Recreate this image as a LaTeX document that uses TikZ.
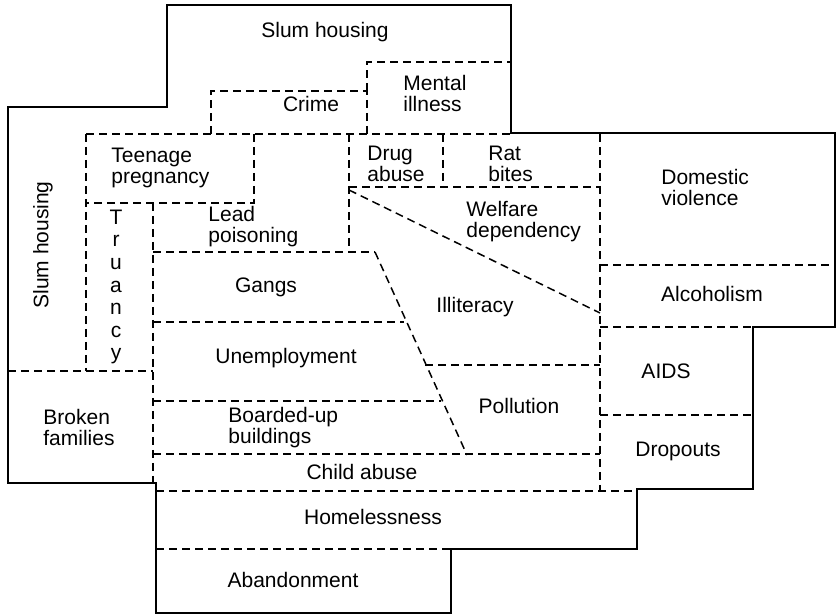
\documentclass[tikz,border=0pt]{standalone}
\usepackage{fontspec}
\setmainfont{Liberation Sans}
\tikzset{
    wall/.style={line width=1pt},
    part/.style={dash pattern=on 4pt off 2.5pt, line width=0.75pt},
    lbl/.style={font=\fontsize{10.5}{10.5}\selectfont, inner sep=0pt},
    lblL/.style={lbl, align=left, anchor=west}
}
\begin{document}
\begin{tikzpicture}[x=0.5pt,y=-0.5pt]
    \useasboundingbox (0,0) rectangle (836,614);
    % outer edge
    \draw[wall] (167,5)--(511,5)--(511,133)--(835,133)--(835,327)--(753,327)--(753,489)--(637,489)--(637,549)--(451,549)--(451,613)--(156,613)--(156,483)--(8,483)--(8,107)--(167,107)--cycle;
    % inner borders
    \draw[part] (211,134)--(211,91)--(367,91)--(367,134);
    \draw[part] (367,91)--(367,62)--(511,62);
    \draw[part] (86,134)--(511,134);
    \draw[part] (254,134)--(254,203)--(86,203);
    \draw[part] (86,134)--(86,371);
    \draw[part] (8,371)--(153,371);
    \draw[part] (153,203)--(153,483);
    \draw[part] (153,252)--(375,252);
    \draw[part] (349,134)--(349,252);
    \draw[part] (349,187)--(600,187);
    \draw[part] (443,134)--(443,187);
    \draw[part] (600,134)--(600,491);
    \draw[part] (600,265)--(835,265);
    \draw[part] (600,327)--(753,327);
    \draw[part] (600,415)--(753,415);
    \draw[part] (349,190)--(600,313);
    \draw[part] (375,252)--(467,455);
    \draw[part] (153,322)--(404,322);
    \draw[part] (153,401)--(441,401);
    \draw[part] (425,365)--(600,365);
    \draw[part] (153,454)--(600,454);
    \draw[part] (156,491)--(637,491);
    \draw[part] (156,549)--(451,549);
    % labels
    \node[lbl](slumtop) at (325,32) {Slum housing};
    \node[lbl](crime) at (311,104) {Crime};
    \node[lblL](mental) at (403,94) {Mental\\illness};
    \node[lblL](teen) at (111,168) {Teenage\\pregnancy};
    \node[lblL](drug) at (367,164) {Drug\\abuse};
    \node[lblL](rat) at (488,164) {Rat\\bites};
    \node[lblL](domestic) at (661,187) {Domestic\\violence};
    \node[lblL](welfare) at (466,222) {Welfare\\dependency};
    \node[lblL](lead) at (208,227) {Lead\\poisoning};
    \node[lbl, align=center, font=\fontsize{10.5}{11.3}\selectfont](truancy) at (116,287) {T\\r\\u\\a\\n\\c\\y};
    \node[lbl, rotate=90](slumleft) at (43,245) {Slum housing};
    \node[lbl](gangs) at (266,287) {Gangs};
    \node[lbl](illit) at (475,307) {Illiteracy};
    \node[lbl](alcohol) at (712,294) {Alcoholism};
    \node[lbl](unemp) at (286,358) {Unemployment};
    \node[lbl](aids) at (666,371) {AIDS};
    \node[lbl](pollution) at (519,406) {Pollution};
    \node[lblL](broken) at (43,427) {Broken\\families};
    \node[lblL](boarded) at (228,428) {Boarded-up\\buildings};
    \node[lbl](dropouts) at (678,451) {Dropouts};
    \node[lbl](childabuse) at (362,472) {Child abuse};
    \node[lbl](homeless) at (373,517) {Homelessness};
    \node[lbl](abandon) at (293,580) {Abandonment};
\end{tikzpicture}
\end{document}
